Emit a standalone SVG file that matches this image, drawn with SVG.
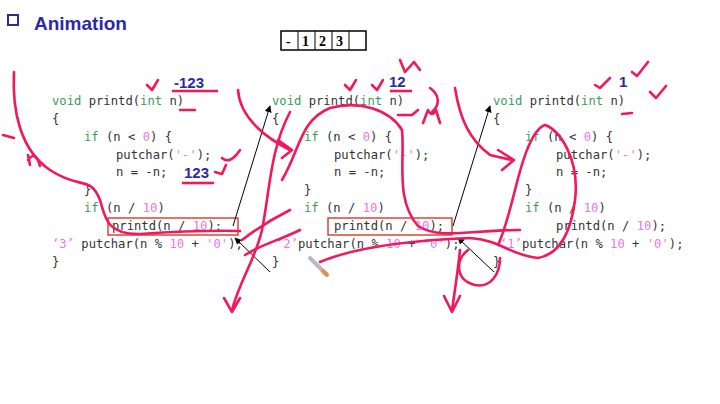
<svg xmlns="http://www.w3.org/2000/svg" width="720" height="404" viewBox="0 0 720 404">
<style>
.c{font-family:"DejaVu Sans Mono","Liberation Mono",monospace;font-size:12.2px;fill:#333;white-space:pre}
.k{fill:#3a9a5a}.n{fill:#e27ae2}
.h{fill:none;stroke:#f2185c;stroke-width:2.6;stroke-linecap:round;stroke-linejoin:round}
.b{font-family:"Liberation Sans",sans-serif;font-weight:bold;font-size:15px;fill:#2a2aa8}
.ar{stroke:#000;stroke-width:1;fill:none;marker-end:url(#m)}
.box{fill:none;stroke:#d23a2a;stroke-width:1.4}
</style>
<defs><marker id="m" viewBox="0 0 10 10" refX="9" refY="5" markerWidth="7" markerHeight="7" orient="auto"><path d="M0,0L10,5L0,10z" fill="#000"/></marker></defs>
<rect width="720" height="404" fill="#fff"/>
<g id="title"><rect x="8" y="15" width="10" height="10" fill="none" stroke="#2a2aa8" stroke-width="2"/><text x="34" y="30" style="font-family:'Liberation Sans',sans-serif;font-weight:bold;font-size:19px;fill:#2a2aa8">Animation</text></g>
<g id="output" style="font-family:'Liberation Serif',serif;font-weight:bold;font-size:14px">
<rect x="281" y="31" width="85" height="19" fill="#fff" stroke="#000" stroke-width="1.5"/>
<line x1="298" y1="31" x2="298" y2="50" stroke="#000"/><line x1="315" y1="31" x2="315" y2="50" stroke="#000"/><line x1="332" y1="31" x2="332" y2="50" stroke="#000"/><line x1="349" y1="31" x2="349" y2="50" stroke="#000"/>
<text x="286" y="46">-</text><text x="302" y="46">1</text><text x="319" y="46">2</text><text x="336" y="46">3</text></g>
<g id="code1" class="c">
<text x="52" y="105"><tspan class="k">void</tspan> printd(<tspan class="k">int</tspan> n)</text>
<text x="52" y="123">{</text>
<text x="84" y="141"><tspan class="k">if</tspan> (n &lt; <tspan class="n">0</tspan>) {</text>
<text x="116" y="159">putchar(<tspan class="n">'-'</tspan>);</text>
<text x="116" y="176">n = -n;</text>
<text x="84" y="194">}</text>
<text x="84" y="212"><tspan class="k">if</tspan> (n / <tspan class="n">10</tspan>)</text>
<text x="112" y="230">printd(n / <tspan class="n">10</tspan>);</text>
<text x="52" y="248"><tspan class="n">‘3’</tspan> putchar(n % <tspan class="n">10</tspan> + <tspan class="n">'0'</tspan>);</text>
<text x="52" y="266">}</text>
<rect class="box" x="108" y="218" width="130" height="17"/></g>
<g id="code2" class="c">
<text x="272" y="105"><tspan class="k">void</tspan> printd(<tspan class="k">int</tspan> n)</text>
<text x="272" y="123">{</text>
<text x="304" y="141"><tspan class="k">if</tspan> (n &lt; <tspan class="n">0</tspan>) {</text>
<text x="334" y="159">putchar(<tspan class="n">'-'</tspan>);</text>
<text x="334" y="176">n = -n;</text>
<text x="304" y="194">}</text>
<text x="304" y="212"><tspan class="k">if</tspan> (n / <tspan class="n">10</tspan>)</text>
<text x="334" y="230">printd(n / <tspan class="n">10</tspan>);</text>
<text x="276" y="248"><tspan class="n">‘2’</tspan>putchar(n % <tspan class="n">10</tspan> + <tspan class="n">'0'</tspan>);</text>
<text x="272" y="266">}</text>
<rect class="box" x="328" y="218" width="124" height="17"/></g>
<g id="code3" class="c">
<text x="493" y="105"><tspan class="k">void</tspan> printd(<tspan class="k">int</tspan> n)</text>
<text x="493" y="123">{</text>
<text x="525" y="141"><tspan class="k">if</tspan> (n &lt; <tspan class="n">0</tspan>) {</text>
<text x="556" y="159">putchar(<tspan class="n">'-'</tspan>);</text>
<text x="556" y="176">n = -n;</text>
<text x="525" y="194">}</text>
<text x="525" y="212"><tspan class="k">if</tspan> (n / <tspan class="n">10</tspan>)</text>
<text x="556" y="230">printd(n / <tspan class="n">10</tspan>);</text>
<text x="500" y="248"><tspan class="n">‘1’</tspan>putchar(n % <tspan class="n">10</tspan> + <tspan class="n">'0'</tspan>);</text>
<text x="493" y="266">}</text></g>
<g id="connectors">
<line class="ar" x1="233" y1="226" x2="270" y2="106"/>
<line class="ar" x1="270" y1="272" x2="235" y2="238"/>
<line class="ar" x1="453" y1="226" x2="490" y2="106"/>
<line class="ar" x1="494" y1="272" x2="458" y2="238"/>
</g>
<g id="labels">
<text class="b" x="174" y="88">-123</text><line x1="172" y1="91" x2="218" y2="91" stroke="#f2185c" stroke-width="2.6"/>
<text class="b" x="184" y="178">123</text><line x1="182" y1="183" x2="214" y2="183" stroke="#f2185c" stroke-width="2.6"/>
<text class="b" x="389" y="87">12</text><line x1="390" y1="91" x2="412" y2="91" stroke="#f2185c" stroke-width="2.6"/>
<text class="b" x="619" y="87">1</text>
</g>
<g id="ink">
<path class="h" d="M14,72 C12,110 20,150 50,170 C80,190 90,175 100,200 C105,215 105,235 140,234 C170,232 200,230 240,231"/>
<path class="h" d="M3,135 L14,138 M28,155 L30,165 M28,160 Q34,152 38,160 L40,166"/>
<path class="h" d="M147,85 L152,90 L158,80 M180,110 L195,110 M222,158 Q230,165 240,150 M215,172 L222,174 L226,165"/>
<path class="h" d="M238,90 C240,120 270,140 290,150 M278,140 L292,150 L282,158"/>
<path class="h" d="M290,112 C270,150 270,190 262,230 C255,260 240,280 232,310 M224,298 L232,312 L240,298"/>
<path class="h" d="M242,240 C255,230 270,220 290,210 M245,255 C260,245 280,240 300,230"/>
<path class="h" d="M282,180 C300,150 300,120 330,108 C360,100 390,110 402,130 C405,160 395,200 418,226 C440,240 470,230 520,230"/>
<path class="h" d="M345,85 L350,90 L356,80 M372,85 L377,90 L383,80 M400,60 L405,72 L414,62 L420,70 M398,115 L412,115 L418,110"/>
<path class="h" d="M430,88 C440,95 440,105 432,112 M423,123 L428,110 Q432,118 436,110 L440,123"/>
<path class="h" d="M455,88 C460,120 470,140 490,155 L512,160 M498,150 L514,160 L502,170"/>
<path class="h" d="M320,262 C360,245 420,240 470,238 C500,240 510,255 538,258 C555,255 570,240 575,200 C580,160 560,130 545,125 C530,130 520,170 515,190 C510,210 505,230 498,245"/>
<path class="h" d="M468,250 C455,260 455,280 475,285 C490,288 500,275 500,258"/>
<path class="h" d="M460,250 C458,270 455,290 452,310 M444,296 L452,312 L460,296"/>
<path class="h" d="M595,85 L600,88 L610,78 M632,72 L637,76 L648,62 M650,92 L656,98 L666,86 M622,114 L632,113"/>
</g>
<g id="cig"><line x1="310" y1="258" x2="326" y2="274" stroke="#bbb" stroke-width="4" stroke-linecap="round"/><line x1="323" y1="271" x2="327" y2="275" stroke="#e09050" stroke-width="4" stroke-linecap="round"/></g>
</svg>
